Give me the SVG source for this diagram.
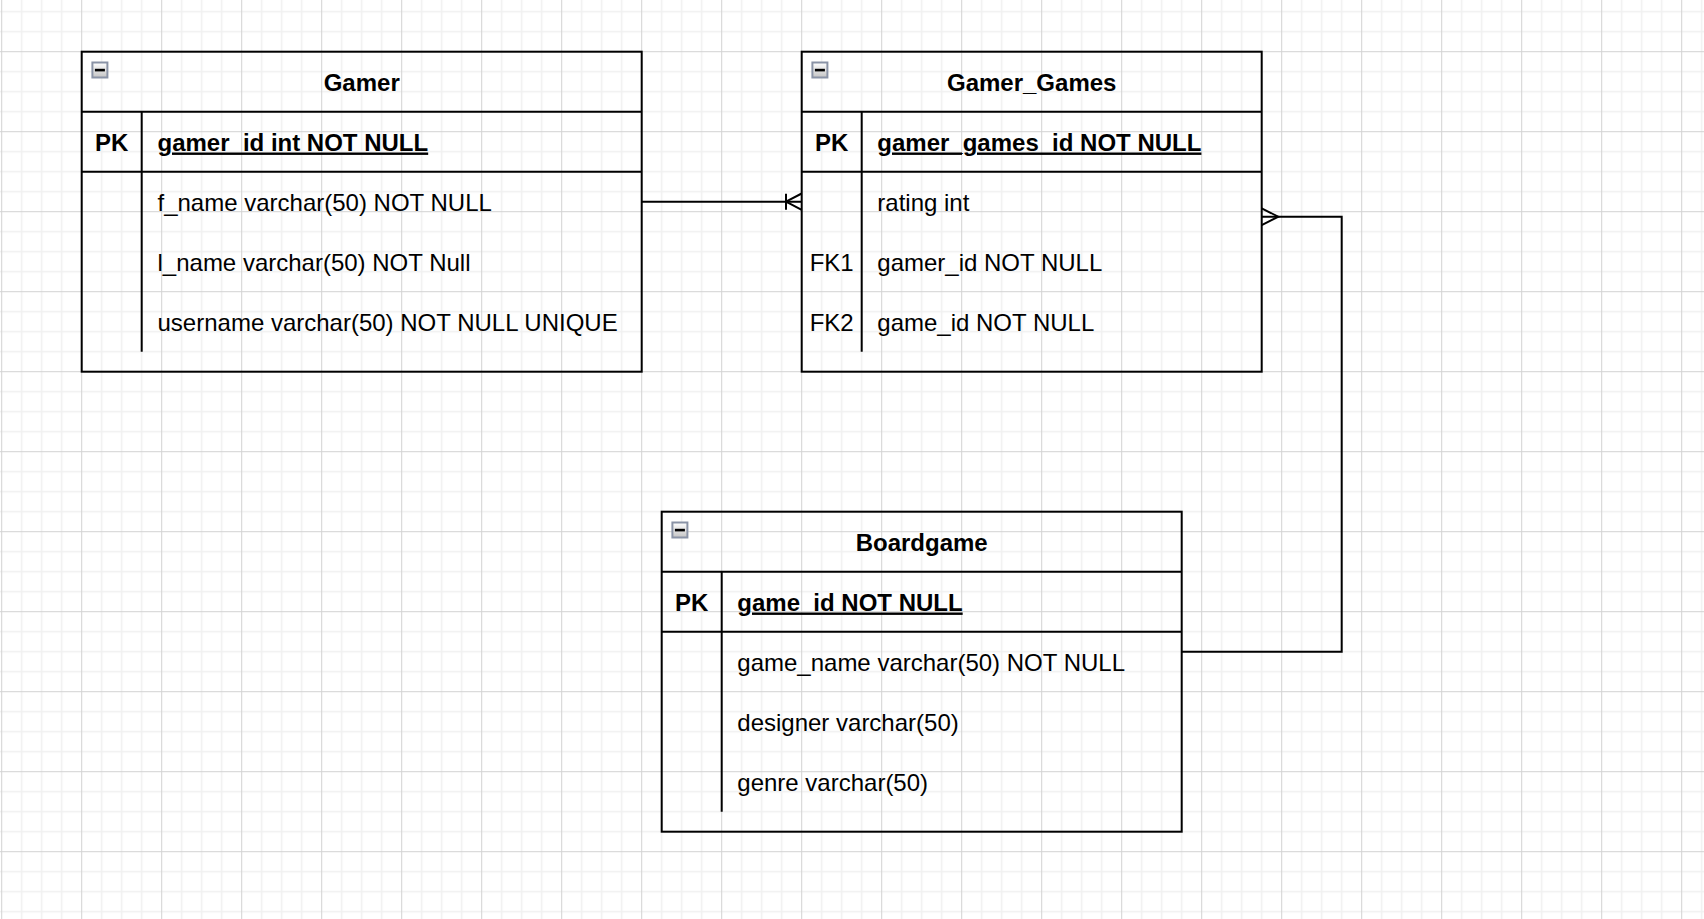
<svg xmlns="http://www.w3.org/2000/svg" xmlns:xlink="http://www.w3.org/1999/xlink" width="1704" height="919" viewBox="0 0 1704 919">
<style>
.box{fill:none;stroke:#000;stroke-width:2}
.edge{fill:none;stroke:#000;stroke-width:2}
.t{font-family:"Liberation Sans",Arial,Helvetica,sans-serif;font-size:24px;fill:#000}
.b{font-weight:bold}
.u{text-decoration:underline}
.mid{text-anchor:middle}
</style>
<defs>
<pattern id="grid" x="1.2" y="51.2" width="80" height="80" patternUnits="userSpaceOnUse">
<rect width="80" height="80" fill="#fff"/>
<path d="M20.5 0V80M40.5 0V80M60.5 0V80M0 20.5H80M0 40.5H80M0 60.5H80" stroke="#f0f0f0" stroke-width="1.5" fill="none"/>
<path d="M0.5 0V80M0 0.5H80" stroke="#d2d2d2" stroke-width="1" fill="none"/>
</pattern>
<linearGradient id="cg" x1="0" y1="0" x2="0" y2="1">
<stop offset="0" stop-color="#ffffff"/>
<stop offset="1" stop-color="#c4c4c4"/>
</linearGradient>
<symbol id="collapse" width="17" height="17" viewBox="0 0 17 17" overflow="visible">
<rect x="1" y="1" width="15" height="15" fill="url(#cg)" stroke="#8a93a6" stroke-width="2"/>
<rect x="3.5" y="7.3" width="10" height="2.6" fill="#000"/>
</symbol>
</defs>
<rect width="1704" height="919" fill="url(#grid)"/>

<g id="connectors">
<path class="edge" d="M641.7 201.7H801.7"/>
<path class="edge" d="M786 193.7V209.7M786 201.7L801.7 193.5M786 201.7L801.7 209.9"/>
<path class="edge" d="M1261.7 216.7H1341.7V651.7H1181.7"/>
<path class="edge" d="M1261.7 208.3L1278.3 216.7L1261.7 225.1"/>
</g>

<g id="gamer">
<rect class="box" x="81.7" y="51.7" width="560" height="320"/>
<path class="box" d="M81.7 111.7H641.7M81.7 171.7H641.7M141.7 111.7V351.7"/>
<use href="#collapse" xlink:href="#collapse" x="91.4" y="61.5" width="17" height="17"/>
<text class="t b mid" x="361.7" y="90.5">Gamer</text>
<text class="t b mid" x="111.7" y="150.5">PK</text>
<text class="t b u" x="157.5" y="150.5">gamer_id int NOT NULL</text>
<text class="t" x="157.5" y="210.5">f_name varchar(50) NOT NULL</text>
<text class="t" x="157.5" y="270.5">l_name varchar(50) NOT Null</text>
<text class="t" x="157.5" y="330.5">username varchar(50) NOT NULL UNIQUE</text>
</g>

<g id="gamer_games">
<rect class="box" x="801.7" y="51.7" width="460" height="320"/>
<path class="box" d="M801.7 111.7H1261.7M801.7 171.7H1261.7M861.7 111.7V351.7"/>
<use href="#collapse" xlink:href="#collapse" x="811.4" y="61.5" width="17" height="17"/>
<text class="t b mid" x="1031.7" y="90.5">Gamer_Games</text>
<text class="t b mid" x="831.7" y="150.5">PK</text>
<text class="t b u" x="877.3" y="150.5">gamer_games_id NOT NULL</text>
<text class="t" x="877.3" y="210.5">rating int</text>
<text class="t mid" x="831.7" y="270.5">FK1</text>
<text class="t" x="877.3" y="270.5">gamer_id NOT NULL</text>
<text class="t mid" x="831.7" y="330.5">FK2</text>
<text class="t" x="877.3" y="330.5">game_id NOT NULL</text>
</g>

<g id="boardgame">
<rect class="box" x="661.7" y="511.7" width="520" height="320"/>
<path class="box" d="M661.7 571.7H1181.7M661.7 631.7H1181.7M721.7 571.7V811.7"/>
<use href="#collapse" xlink:href="#collapse" x="671.4" y="521.5" width="17" height="17"/>
<text class="t b mid" x="921.7" y="550.5">Boardgame</text>
<text class="t b mid" x="691.7" y="610.5">PK</text>
<text class="t b u" x="737.3" y="610.5">game_id NOT NULL</text>
<text class="t" x="737.3" y="670.5">game_name varchar(50) NOT NULL</text>
<text class="t" x="737.3" y="730.5">designer varchar(50)</text>
<text class="t" x="737.3" y="790.5">genre varchar(50)</text>
</g>
</svg>
